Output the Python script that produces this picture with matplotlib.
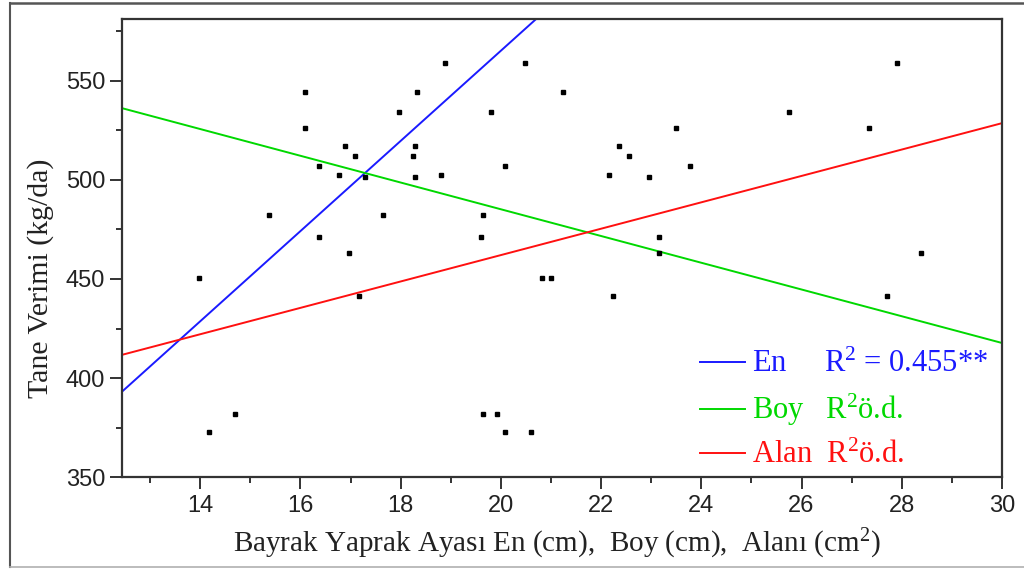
import matplotlib
matplotlib.use("Agg")
import matplotlib.pyplot as plt
from matplotlib.lines import Line2D
import numpy as np

plt.rcParams["mathtext.fontset"] = "custom"
plt.rcParams["mathtext.rm"] = "Liberation Serif"
plt.rcParams["mathtext.it"] = "Liberation Serif:italic"
plt.rcParams["mathtext.bf"] = "Liberation Serif:bold"

# Flag-leaf measurements (cm / cm2) against grain yield (kg/da)
leaf_measure = [13.98, 14.18, 14.70, 15.37, 16.09, 16.09, 16.37, 16.37, 16.77, 16.89,
                16.97, 17.09, 17.17, 17.29, 17.65, 17.96, 18.24, 18.28, 18.28, 18.32,
                18.80, 18.88, 19.60, 19.64, 19.64, 19.80, 19.92, 20.08, 20.08, 20.48,
                20.61, 20.83, 21.01, 21.23, 22.15, 22.23, 22.35, 22.55, 22.95, 23.15,
                23.15, 23.50, 23.78, 25.74, 27.35, 27.71, 27.91, 28.39]
grain_yield = [450.5, 373, 382, 482, 544, 526, 507, 471, 502.5, 517,
               463, 512, 441.5, 501.5, 482, 534, 512, 517, 501.5, 544,
               502.5, 559, 471, 482, 382, 534, 382, 507, 373, 559,
               373, 450.5, 450.5, 544, 502.5, 441.5, 517, 512, 501.5, 471,
               463, 526, 507, 534, 526, 441.5, 559, 463]

# Linear fits: yield = intercept + slope * x
fit_names = ["En", "Boy", "Alan"]
fit_intercept = [110.4, 619.9, 329.0]
fit_slope = [22.73, -6.74, 6.65]
fit_colors = ["#1a1aff", "#00d800", "#ff1010"]
fit_labels = [r"En     $\mathrm{R}^2$ = 0.455**",
              r"Boy   $\mathrm{R}^2$ö.d.",
              r"Alan  $\mathrm{R}^2$ö.d."]

x_ticks = [14, 16, 18, 20, 22, 24, 26, 28, 30]
y_ticks = [350, 400, 450, 500, 550]
x_range = (12.44, 30)
y_range = (350, 581)

fig = plt.figure(figsize=(10.24, 5.69), dpi=100)
W, H = 1024, 569
ax = fig.add_axes([122 / W, 1 - 477.3 / H, 880 / W, 458.3 / H])

ax.plot(leaf_measure, grain_yield, linestyle="none", marker="s",
        markersize=2.6, color="black", zorder=3)

xs = np.array(x_range)
handles = []
for b0, b1, col in zip(fit_intercept, fit_slope, fit_colors):
    ln, = ax.plot(xs, b0 + b1 * xs, color=col, lw=1.4, zorder=2)
    handles.append(ln)

ax.set_xlim(*x_range)
ax.set_ylim(*y_range)
ax.set_xticks(x_ticks)
ax.set_yticks(y_ticks)
ax.set_xticks(np.arange(13, 30, 2), minor=True)
ax.set_yticks(np.arange(375, 581, 50), minor=True)

spine_col = "#333333"
for s in ax.spines.values():
    s.set_linewidth(1.6)
    s.set_color(spine_col)
ax.tick_params(which="major", direction="out", length=8.6, width=1.4,
               color=spine_col, labelsize=17, labelcolor="#222222")
ax.tick_params(which="minor", direction="out", length=4.3, width=1.4, color=spine_col)
ax.tick_params(axis="x", which="major", pad=4.5)
ax.tick_params(axis="y", which="major", pad=3.4)
for lab in ax.get_xticklabels() + ax.get_yticklabels():
    lab.set_family(["Liberation Sans Narrow", "Liberation Sans"])

serif = "Liberation Serif"
ax.set_ylabel("Tane Verimi (kg/da)", family=serif, fontsize=21.5, color="#222222")
ax.yaxis.set_label_coords(-0.077, 0.435)
ax.set_xlabel(r"Bayrak Yaprak Ayası En (cm),  Boy (cm),  Alanı ($\mathrm{cm}^2$)",
              family=serif, fontsize=21, color="#222222")
ax.xaxis.set_label_coords(0.494, -0.108)

leg = ax.legend(handles, fit_labels, loc="upper left",
                bbox_to_anchor=((700 - 122) / 880, (477.3 - 350) / 458.3),
                frameon=False, borderpad=0, borderaxespad=0,
                handlelength=1.47, handletextpad=0.23, labelspacing=0.42,
                prop={"family": serif, "size": 22}, labelcolor="linecolor")

# outer frame of the figure
fig.add_artist(Line2D([10 / W, 10 / W], [1 - 3 / H, 1 - 567 / H], color="#555555", lw=1.5,
                      transform=fig.transFigure))
fig.add_artist(Line2D([10 / W, 1.0], [1 - 3 / H, 1 - 3 / H], color="#555555", lw=1.8,
                      transform=fig.transFigure))
fig.add_artist(Line2D([10 / W, 1.0], [1 - 567 / H, 1 - 567 / H], color="#b0b0b0", lw=1.2,
                      transform=fig.transFigure))

fig.savefig("out.png", dpi=100)
